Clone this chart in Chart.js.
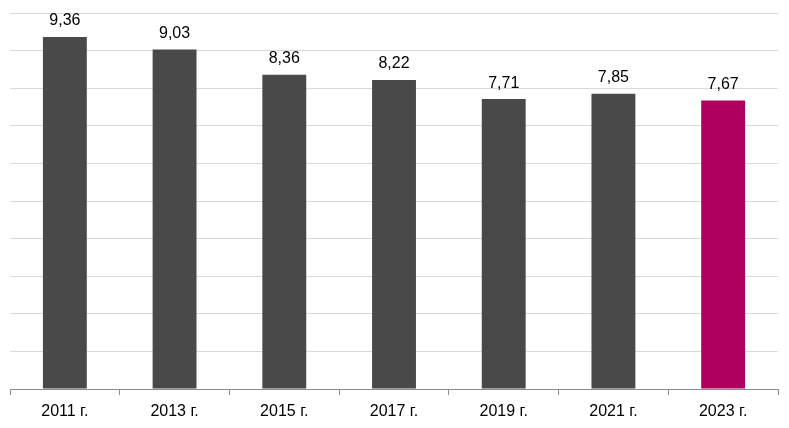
<!DOCTYPE html>
<html>
<head>
<meta charset="utf-8">
<script src="https://cdn.jsdelivr.net/npm/chart.js@4/dist/chart.umd.min.js"></script>
<style>
  html, body { margin: 0; padding: 0; background: #fff; }
  #wrap { width: 789px; height: 428px; position: relative; }
</style>
</head>
<body>
<div id="wrap"><canvas id="chart"></canvas></div>
<script>
// ===== данные =====
const years = ['2011 г.', '2013 г.', '2015 г.', '2017 г.', '2019 г.', '2021 г.', '2023 г.'];
const values = [9.36, 9.03, 8.36, 8.22, 7.71, 7.85, 7.67];
const barColors = ['#494949', '#494949', '#494949', '#494949', '#494949', '#494949', '#b0005f'];

const FONT = '"Liberation Sans", Arial, sans-serif';

// подписи значений над столбцами
const valueLabels = {
  id: 'valueLabels',
  afterDatasetsDraw(chart) {
    const ctx = chart.ctx;
    const meta = chart.getDatasetMeta(0);
    ctx.save();
    ctx.font = '16px ' + FONT;
    ctx.fillStyle = '#000';
    ctx.textAlign = 'center';
    ctx.textBaseline = 'bottom';
    meta.data.forEach((bar, i) => {
      ctx.fillText(values[i].toFixed(2).replace('.', ','), bar.x, bar.y - 8);
    });
    ctx.restore();
  }
};

new Chart(document.getElementById('chart'), {
  type: 'bar',
  data: {
    labels: years,
    datasets: [{
      data: values,
      backgroundColor: barColors,
      borderWidth: 0,
      categoryPercentage: 1,
      barPercentage: 0.4
    }]
  },
  options: {
    responsive: true,
    maintainAspectRatio: false,
    animation: false,
    layout: { padding: { left: 10, right: 11, top: 13, bottom: 0 } },
    plugins: { legend: { display: false }, tooltip: { enabled: false } },
    scales: {
      x: {
        afterFit: s => { s.height = 39; },
        grid: { offset: true, drawOnChartArea: false, drawTicks: true, tickLength: 6, color: '#8c8c8c' },
        border: { display: true, color: '#8c8c8c' },
        ticks: { color: '#000', font: { family: FONT, size: 16 }, padding: 7 }
      },
      y: {
        min: 0, max: 10,
        ticks: { display: false, stepSize: 1 },
        grid: { color: '#d9d9d9', drawTicks: false },
        border: { display: false }
      }
    }
  },
  plugins: [valueLabels]
});
</script>
</body>
</html>
